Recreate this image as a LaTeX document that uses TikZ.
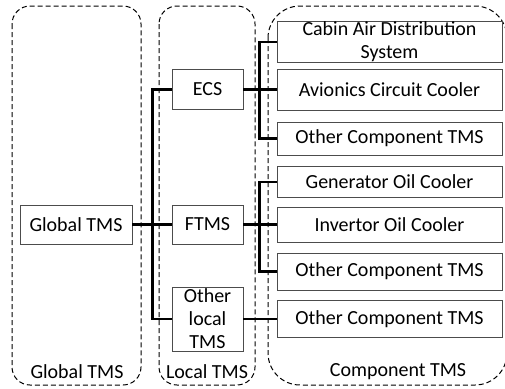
\documentclass[tikz,border=0pt]{standalone}
\usepackage{fontspec}
\setmainfont{Carlito}
\begin{document}
\begin{tikzpicture}[x=1pt,y=-1pt]
\tikzset{kasten/.style={draw=black!70,line width=0.9pt,rectangle,inner sep=0pt,font=\fontsize{20}{23}\selectfont,align=center}}
\tikzset{bereich/.style={draw,dash pattern=on 5pt off 3pt,line width=1pt,rounded corners=18pt}}
\tikzset{leitung/.style={line width=2.4pt}}
\tikzset{titel/.style={font=\fontsize{20}{23}\selectfont}}
\useasboundingbox (0,0) rectangle (505,388);
\draw[bereich] (12,6) rectangle (141,385);
\draw[bereich] (159,6) rectangle (255,385);
\draw[bereich,rounded corners=32pt] (268,6) rectangle (507,385);
\node [kasten,minimum width=112pt,minimum height=39pt] (global) at (76,224.5) {Global TMS};
\node [kasten,minimum width=71pt,minimum height=40pt] (ecs) at (207.5,89.5) {ECS};
\node [kasten,minimum width=71pt,minimum height=39pt] (ftms) at (207.5,224.5) {FTMS};
\node [kasten,minimum width=71pt,minimum height=64pt] (olocal) at (207.5,319) {Other\\local\\TMS};
\node [kasten,minimum width=225pt,minimum height=39pt] (cabin) at (389.5,42) {Cabin Air Distribution\\System};
\node [kasten,minimum width=225pt,minimum height=41pt] (avionics) at (389.5,89.5) {Avionics Circuit Cooler};
\node [kasten,minimum width=225pt,minimum height=33pt] (oct1) at (389.5,138.5) {Other Component TMS};
\node [kasten,minimum width=225pt,minimum height=31pt] (generator) at (389.5,182) {Generator Oil Cooler};
\node [kasten,minimum width=225pt,minimum height=35pt] (invertor) at (389.5,224.5) {Invertor Oil Cooler};
\node [kasten,minimum width=225pt,minimum height=37pt] (oct2) at (389.5,271.5) {Other Component TMS};
\node [kasten,minimum width=225pt,minimum height=37pt] (oct3) at (389.5,319) {Other Component TMS};
\draw[leitung] (global) to (ftms);
\draw[leitung] (ecs.west) -- ++(-19,0) |- (olocal.west);
\draw[leitung] (ecs) to (avionics);
\draw[leitung] (ftms) to (invertor);
\draw[leitung] (olocal) to (oct3);
\draw[leitung] (cabin.west) -- ++(-17,0) |- (oct1.west);
\draw[leitung] (generator.west) -- ++(-17,0) |- (oct2.west);
\node [titel] (lglobal) at (77,372) {Global TMS};
\node [titel] (llocal) at (207,372) {Local TMS};
\node [titel] (lcomp) at (398,372) {Component TMS};
\end{tikzpicture}
\end{document}
